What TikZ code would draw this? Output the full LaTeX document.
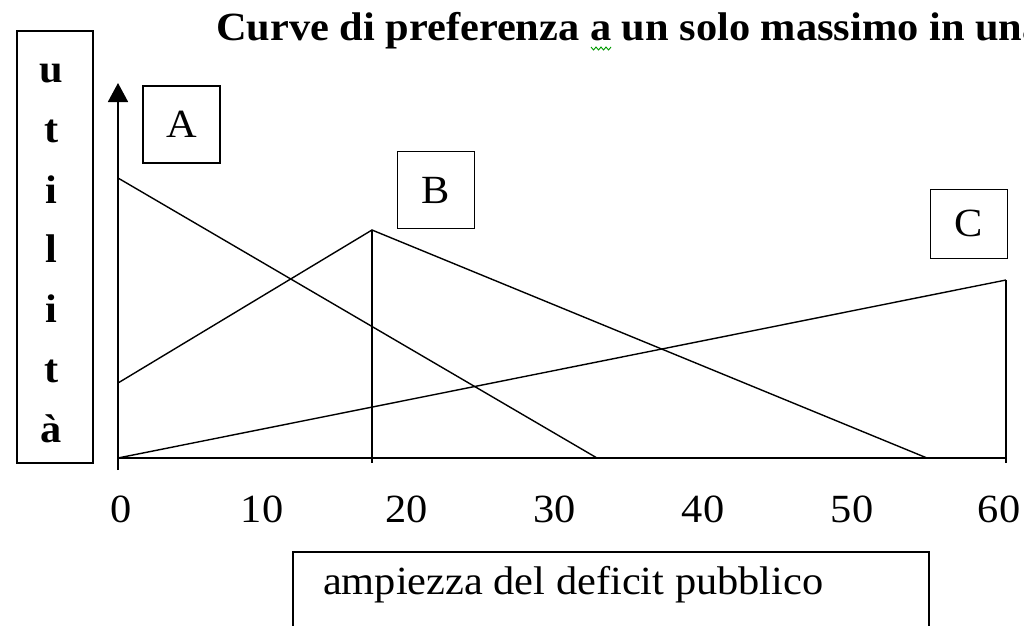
\documentclass[tikz,border=0pt]{standalone}
\usepackage{fontspec}
\setmainfont[FakeStretch=1.06]{Liberation Serif}
\usetikzlibrary{arrows.meta}
\begin{document}
\begin{tikzpicture}[x=1pt,y=-1pt,
  every node/.style={font=\fontsize{40}{48}\selectfont, inner sep=0pt, outer sep=0pt},
  box/.style={draw, line width=1.6pt, rectangle},
  curve/.style={line width=1.4pt},
  axis/.style={line width=1.8pt},
  lbl/.style={anchor=base},
  vlet/.style={anchor=base, font=\fontsize{40}{48}\selectfont\bfseries}]
\useasboundingbox (0,0) rectangle (1024,625);
\clip (0,0) rectangle (1024,625);
% title
\node[anchor=base west, font=\fontsize{40}{48}\selectfont\bfseries] (title) at (216,40) {Curve di preferenza a un solo massimo in una};
\draw[green!60!black, line width=0.9pt] (591,47) -- (593.5,50) -- (596,47) -- (598.5,50) -- (601,47) -- (603.5,50) -- (606,47) -- (608.5,50) -- (611,47);
% y label box
\node[box, minimum width=76pt, minimum height=432pt] (ybox) at (54.7,247) {};
\foreach \l/\y [count=\i] in {u/82,t/142,i/203,l/262,i/322,t/382,\`a/442}
  \node[vlet] (yl\i) at (51.5,\y) {\l};
% letter boxes
\node[box, minimum width=77pt, minimum height=77pt] (boxA) at (181.5,124.5) {A};
\node[box, minimum width=77pt, minimum height=77pt] (boxB) at (436,190) {B};
\node[box, minimum width=77pt, minimum height=69pt] (boxC) at (969,223.8) {\raisebox{-7pt}{C}};
% x label box
\node[box, minimum width=636pt, minimum height=120pt] (xbox) at (611,612) {};
\node[anchor=base west] (xlbl) at (323,594) {ampiezza del deficit pubblico};
% coordinates
\coordinate (O) at (118,458);
\coordinate (Obot) at (118,470);
\coordinate (Ytop) at (118,83);
\coordinate (Xend) at (1006,458);
\coordinate (a0) at (118,178);
\coordinate (a1) at (597,458);
\coordinate (b0) at (118,383);
\coordinate (bp) at (372,230);
\coordinate (bbot) at (372,463);
\coordinate (b1) at (927,458);
\coordinate (c1) at (1006,280);
\coordinate (cbot) at (1006,463);
% axes
\draw[axis, -{Triangle[width=20pt,length=19pt]}] (Obot) -- (Ytop);
\draw[axis] (O) -- (Xend);
% curves
\draw[curve] (a0) -- (a1);
\draw[curve] (b0) -- (bp) -- (b1);
\draw[curve] (bp) -- (bbot);
\draw[curve] (O) -- (c1);
\draw[curve] (c1) -- (cbot);
% tick labels
\foreach \v/\x in {0/121.5,10/262,20/406.7,30/554.7,40/703,50/852,60/999}
  \node[lbl] (t\v) at (\x,522) {\v};
\end{tikzpicture}
\end{document}
